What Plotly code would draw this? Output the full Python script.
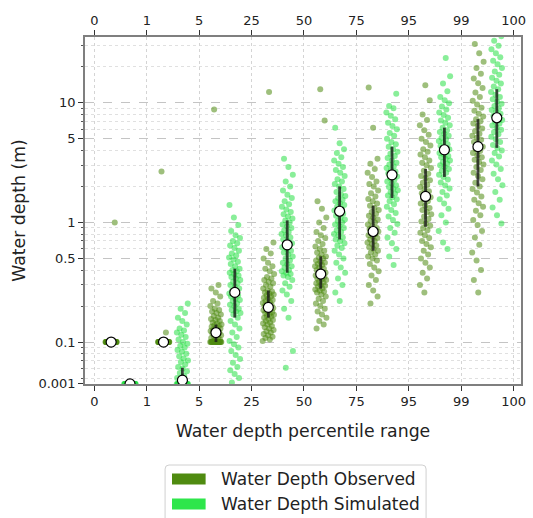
import math
import plotly.graph_objects as go

# ---------------- data ----------------
categories = ["0-1", "1-5", "5-25", "25-50", "50-75", "75-95", "95-99", "99-100"]
edge_labels = ["0", "1", "5", "25", "50", "75", "95", "99", "100"]

obs_0_1 = [0.1] * 44 + [1.0]
sim_0_1 = [0.001] * 44

obs_1_5 = [0.1] * 42 + [0.12, 2.66]
sim_1_5 = [0.001] * 28 + [0.048, 0.05, 0.052, 0.055, 0.057, 0.06, 0.062, 0.065, 0.068, 0.07,
                          0.073, 0.076, 0.08, 0.083, 0.086, 0.09, 0.093, 0.097, 0.1, 0.105,
                          0.11, 0.115, 0.12, 0.125, 0.13, 0.14, 0.15, 0.16, 0.175, 0.19, 0.21]

obs_5_25 = [0.1] * 20 + [0.102, 0.104, 0.106, 0.108, 0.11, 0.112, 0.114, 0.116, 0.118, 0.12,
                         0.122, 0.124, 0.126, 0.128, 0.13, 0.132, 0.134, 0.136, 0.138, 0.14,
                         0.143, 0.146, 0.15, 0.153, 0.156, 0.16, 0.165, 0.17, 0.175, 0.18,
                         0.185, 0.19, 0.2, 0.21, 0.22, 0.24, 0.26, 0.28, 0.3, 8.8]
sim_5_25 = [0.046, 0.05, 0.054, 0.058, 0.062, 0.067, 0.072, 0.078, 0.084, 0.09, 0.096, 0.102,
            0.11, 0.12, 0.13, 0.14, 0.15, 0.16, 0.17, 0.175, 0.18, 0.185, 0.19, 0.2, 0.205,
            0.21, 0.22, 0.225, 0.23, 0.24, 0.245, 0.25, 0.255, 0.26, 0.27, 0.28, 0.29, 0.3,
            0.31, 0.32, 0.33, 0.34, 0.35, 0.36, 0.37, 0.38, 0.39, 0.4, 0.41, 0.43, 0.45, 0.47,
            0.49, 0.51, 0.53, 0.55, 0.58, 0.61, 0.64, 0.67, 0.7, 0.74, 0.78, 0.85, 0.95, 1.1, 1.4]

obs_25_50 = [0.102, 0.105, 0.108, 0.111, 0.114, 0.117, 0.12, 0.123, 0.126, 0.13, 0.133, 0.136,
             0.14, 0.143, 0.146, 0.15, 0.153, 0.156, 0.16, 0.163, 0.166, 0.169, 0.172, 0.175,
             0.178, 0.181, 0.184, 0.187, 0.19, 0.193, 0.196, 0.2, 0.204, 0.208, 0.212, 0.216,
             0.22, 0.225, 0.23, 0.235, 0.24, 0.245, 0.25, 0.255, 0.26, 0.265, 0.27, 0.28, 0.29,
             0.3, 0.31, 0.32, 0.33, 0.34, 0.35, 0.37, 0.39, 0.41, 0.43, 0.46, 0.5, 0.55, 0.6,
             0.68, 12.3]
sim_25_50 = [0.061, 0.084, 0.16, 0.19, 0.22, 0.25, 0.27, 0.29, 0.31, 0.33, 0.35, 0.36, 0.37,
             0.38, 0.39, 0.4, 0.42, 0.43, 0.45, 0.46, 0.48, 0.5, 0.52, 0.54, 0.56, 0.58, 0.6,
             0.62, 0.64, 0.65, 0.67, 0.7, 0.72, 0.75, 0.78, 0.8, 0.83, 0.86, 0.9, 0.93, 0.96,
             1.0, 1.04, 1.08, 1.12, 1.17, 1.22, 1.28, 1.35, 1.42, 1.5, 1.6, 1.7, 1.85, 2.0, 2.2,
             2.5, 2.9, 3.4]

obs_50_75 = [0.13, 0.14, 0.15, 0.16, 0.17, 0.18, 0.19, 0.2, 0.21, 0.22, 0.23, 0.24, 0.25, 0.26,
             0.265, 0.27, 0.275, 0.28, 0.29, 0.295, 0.3, 0.31, 0.315, 0.32, 0.33, 0.335, 0.34,
             0.35, 0.355, 0.36, 0.37, 0.375, 0.38, 0.39, 0.4, 0.41, 0.42, 0.43, 0.44, 0.45, 0.46,
             0.47, 0.48, 0.5, 0.51, 0.52, 0.54, 0.56, 0.58, 0.6, 0.63, 0.66, 0.7, 0.74, 0.78,
             0.83, 0.9, 1.0, 1.1, 1.3, 1.5, 7.1, 13.0]
sim_50_75 = [0.22, 0.26, 0.3, 0.34, 0.38, 0.42, 0.46, 0.5, 0.54, 0.58, 0.61, 0.64, 0.67, 0.7,
             0.72, 0.75, 0.78, 0.8, 0.83, 0.86, 0.9, 0.93, 0.96, 1.0, 1.03, 1.06, 1.1, 1.14,
             1.18, 1.22, 1.26, 1.3, 1.35, 1.4, 1.45, 1.5, 1.55, 1.6, 1.66, 1.72, 1.8, 1.9, 2.0,
             2.1, 2.2, 2.3, 2.45, 2.6, 2.75, 2.9, 3.1, 3.3, 3.5, 3.8, 4.1, 4.6, 6.2]

obs_75_95 = [0.21, 0.24, 0.27, 0.3, 0.33, 0.36, 0.39, 0.42, 0.45, 0.48, 0.5, 0.52, 0.54, 0.56,
             0.58, 0.6, 0.62, 0.64, 0.66, 0.68, 0.7, 0.72, 0.74, 0.76, 0.78, 0.8, 0.82, 0.84,
             0.86, 0.88, 0.9, 0.93, 0.96, 1.0, 1.03, 1.06, 1.1, 1.14, 1.18, 1.22, 1.27, 1.32,
             1.38, 1.44, 1.5, 1.57, 1.65, 1.75, 1.85, 2.0, 2.1, 2.2, 2.4, 2.6, 2.8, 3.1, 3.4,
             6.2, 13.4]
sim_75_95 = [0.44, 0.52, 0.6, 0.67, 0.75, 0.82, 0.9, 0.97, 1.05, 1.12, 1.2, 1.27, 1.35, 1.42,
             1.5, 1.56, 1.62, 1.68, 1.74, 1.8, 1.86, 1.92, 1.98, 2.05, 2.12, 2.2, 2.27, 2.35,
             2.42, 2.5, 2.58, 2.66, 2.75, 2.85, 2.95, 3.05, 3.15, 3.3, 3.45, 3.6, 3.75, 3.9, 4.1,
             4.3, 4.5, 4.7, 5.0, 5.3, 5.6, 6.0, 6.4, 6.8, 7.3, 7.8, 8.3, 9.0, 9.4, 11.9]

obs_95_99 = [0.26, 0.3, 0.34, 0.38, 0.42, 0.46, 0.5, 0.54, 0.58, 0.62, 0.66, 0.7, 0.74, 0.78,
             0.82, 0.86, 0.9, 0.94, 0.98, 1.02, 1.07, 1.12, 1.17, 1.22, 1.27, 1.32, 1.38, 1.44,
             1.5, 1.56, 1.62, 1.68, 1.75, 1.82, 1.9, 1.98, 2.06, 2.15, 2.25, 2.35, 2.45, 2.55,
             2.7, 2.85, 3.0, 3.15, 3.3, 3.5, 3.7, 3.9, 4.1, 4.4, 4.7, 5.0, 5.4, 5.9, 6.5, 7.2,
             8.0, 10.5, 14.0]
sim_95_99 = [0.6, 0.68, 0.85, 1.0, 1.15, 1.3, 1.44, 1.56, 1.68, 1.8, 1.92, 2.04, 2.16, 2.28,
             2.4, 2.5, 2.6, 2.7, 2.8, 2.9, 3.0, 3.1, 3.2, 3.3, 3.4, 3.5, 3.6, 3.7, 3.8, 3.9, 4.0,
             4.1, 4.2, 4.35, 4.5, 4.65, 4.8, 4.95, 5.1, 5.3, 5.5, 5.7, 5.9, 6.2, 6.5, 6.8, 7.1,
             7.5, 7.9, 8.3, 8.8, 9.3, 9.9, 10.5, 11.2, 12.5, 14.5, 16.7, 23.7]

obs_99_100 = [0.26, 0.33, 0.4, 0.48, 0.56, 0.65, 0.75, 0.85, 0.95, 1.05, 1.15, 1.25, 1.35, 1.45,
              1.55, 1.65, 1.78, 1.9, 2.0, 2.15, 2.3, 2.45, 2.6, 2.75, 2.9, 3.05, 3.2, 3.35, 3.5,
              3.65, 3.8, 3.95, 4.1, 4.3, 4.5, 4.7, 4.9, 5.1, 5.3, 5.5, 5.8, 6.1, 6.4, 6.7, 7.0,
              7.3, 7.7, 8.1, 8.6, 9.1, 9.7, 10.4, 11.2, 12.2, 13.3, 14.6, 16.0, 17.5, 19.5, 22.0,
              26.0, 31.0]
sim_99_100 = [0.98, 1.15, 1.33, 1.55, 1.8, 2.05, 2.3, 2.55, 2.8, 3.05, 3.3, 3.55, 3.8, 4.0, 4.2,
              4.45, 4.7, 4.95, 5.2, 5.45, 5.7, 5.95, 6.2, 6.45, 6.7, 6.95, 7.2, 7.5, 7.8, 8.1,
              8.4, 8.7, 9.0, 9.4, 9.8, 10.2, 10.7, 11.2, 11.7, 12.3, 13.0, 13.7, 14.5, 15.3, 16.2,
              17.2, 18.3, 19.5, 21.0, 22.5, 24.0, 26.0, 28.0, 30.0, 33.0, 36.0]

obs_median = [0.1, 0.1, 0.12, 0.195, 0.37, 0.84, 1.65, 4.3]
obs_q1 = [0.1, 0.1, 0.1, 0.16, 0.28, 0.58, 0.92, 2.0]
obs_q3 = [0.1, 0.1, 0.14, 0.27, 0.52, 1.38, 2.8, 7.3]
sim_median = [0.001, 0.048, 0.26, 0.65, 1.24, 2.5, 4.05, 7.5]
sim_q1 = [0.001, 0.001, 0.16, 0.38, 0.72, 1.6, 2.4, 4.2]
sim_q3 = [0.001, 0.061, 0.41, 1.04, 2.0, 4.3, 6.2, 13.0]

y_tick_vals = [0.001, 0.1, 0.5, 1, 5, 10]
y_tick_text = ["0.001", "0.1", "0.5", "1", "5", "10"]
y_minor_vals = [0.05, 0.06, 0.07, 0.08, 0.09, 0.2, 0.3, 0.4, 0.6, 0.7, 0.8, 0.9,
                2, 3, 4, 6, 7, 8, 9, 20, 30]

obs_groups = [obs_0_1, obs_1_5, obs_5_25, obs_25_50, obs_50_75, obs_75_95, obs_95_99, obs_99_100]
sim_groups = [sim_0_1, sim_1_5, sim_5_25, sim_25_50, sim_50_75, sim_75_95, sim_95_99, sim_99_100]

# ---------------- styling ----------------
OBS_COLOR = "#4f8b10"
SIM_COLOR = "#2ee64b"
SIM_POINT = "#28e046"
FONT = "DejaVu Sans"
W, H = 533, 518
ML, MR, MT, MB = 85, 7, 37, 134
PW, PH = W - ML - MR, H - MT - MB
AXIS_FLOOR = 0.0447          # bottom of the axis, where 0.001 values sit
Y_TOP = 35.5
X_RANGE = [-0.179, -0.179 + PW / 53.0]
Y_RANGE = [math.log10(AXIS_FLOOR) - 0.001, math.log10(Y_TOP)]
OBS_OFF, SIM_OFF, JIT = 0.32, 0.68, 0.11


def disp(v):
    return max(v, AXIS_FLOOR)


def jitter(n, shift):
    return [(((i + 1) * 0.6180339887 + shift) % 1.0 - 0.5) * 2 * JIT for i in range(n)]


fig = go.Figure()

for series, off, color, shift in ((obs_groups, OBS_OFF, OBS_COLOR, 0.0),
                                  (sim_groups, SIM_OFF, SIM_POINT, 0.37)):
    xs, ys = [], []
    for k, vals in enumerate(series):
        jj = jitter(len(vals), shift + 0.13 * k)
        xs += [k + off + j for j in jj]
        ys += [disp(v) for v in vals]
    fig.add_trace(go.Scatter(x=xs, y=ys, mode="markers", showlegend=False, hoverinfo="skip",
                             marker=dict(size=6, color=color, opacity=0.55,
                                         line=dict(width=0))))

# IQR lines and medians (on overlay axis so they sit on top)
for med, q1, q3, off in ((obs_median, obs_q1, obs_q3, OBS_OFF),
                         (sim_median, sim_q1, sim_q3, SIM_OFF)):
    lx, ly = [], []
    for k in range(len(categories)):
        lx += [k + off, k + off, None]
        ly += [disp(q1[k]), disp(q3[k]), None]
    fig.add_trace(go.Scatter(x=lx, y=ly, mode="lines", xaxis="x2", showlegend=False,
                             hoverinfo="skip", line=dict(color="rgba(25,25,25,0.8)", width=2.8)))
    fig.add_trace(go.Scatter(x=[k + off for k in range(len(categories))],
                             y=[disp(m) for m in med], mode="markers", xaxis="x2",
                             showlegend=False, hoverinfo="skip",
                             marker=dict(size=10, color="white",
                                         line=dict(color="black", width=1.2))))

axis_line = dict(showline=True, linecolor="#7f7f7f", linewidth=1.5)
tickfont = dict(family=FONT, size=13, color="#222")

fig.update_layout(
    width=W, height=H,
    margin=dict(l=ML, r=MR, t=MT, b=MB),
    paper_bgcolor="white", plot_bgcolor="white",
    font=dict(family=FONT, color="#222"),
    showlegend=False,
    xaxis=dict(range=X_RANGE, tickmode="array", tickvals=list(range(len(edge_labels))),
               ticktext=edge_labels, ticks="outside", ticklen=5, tickcolor="#333",
               tickfont=tickfont, showgrid=True, gridcolor="#d4d4d4", griddash="dot",
               gridwidth=1, zeroline=False,
               title=dict(text="Water depth percentile range",
                          font=dict(family=FONT, size=17.3, color="#222"), standoff=17),
               **axis_line),
    xaxis2=dict(range=X_RANGE, overlaying="x", side="top", tickmode="array",
                tickvals=list(range(len(edge_labels))), ticktext=edge_labels,
                ticks="outside", ticklen=5, tickcolor="#333", tickfont=tickfont,
                showgrid=False, zeroline=False, **axis_line),
    yaxis=dict(type="log", range=Y_RANGE, tickmode="array",
               tickvals=[disp(v) for v in y_tick_vals], ticktext=y_tick_text,
               ticks="outside", ticklen=5, tickcolor="#333", tickfont=tickfont,
               showgrid=True, gridcolor="#c4c4c4", griddash="dash", gridwidth=1,
               minor=dict(tickmode="array", tickvals=y_minor_vals, ticks="outside",
                          ticklen=2.5, tickcolor="#555", showgrid=True,
                          gridcolor="#e0e0e0", griddash="dot", gridwidth=1),
               zeroline=False, mirror=True,
               title=dict(text="Water depth (m)",
                          font=dict(family=FONT, size=17.3, color="#222"), standoff=8),
               **axis_line),
)


# ---------------- legend drawn below the plot ----------------
def px(x):
    return (x - ML) / PW


def py(y):
    return (MT + PH - y) / PH


bx0, bx1, by0, by1, r = 166, 430, 465, 540, 4
path = (f"M{px(bx0 + r)},{py(by0)} L{px(bx1 - r)},{py(by0)} "
        f"Q{px(bx1)},{py(by0)} {px(bx1)},{py(by0 + r)} L{px(bx1)},{py(by1)} "
        f"L{px(bx0)},{py(by1)} L{px(bx0)},{py(by0 + r)} "
        f"Q{px(bx0)},{py(by0)} {px(bx0 + r)},{py(by0)} Z")
fig.add_shape(type="path", path=path, xref="paper", yref="paper",
              line=dict(color="#d0d0d0", width=1), fillcolor="white", layer="above")

legend_items = [("Water Depth Observed", OBS_COLOR, 479),
                ("Water Depth Simulated", SIM_COLOR, 504)]
for label, color, yc in legend_items:
    fig.add_shape(type="rect", xref="paper", yref="paper",
                  x0=px(173), x1=px(207), y0=py(yc - 5.5), y1=py(yc + 5.5),
                  line=dict(width=0), fillcolor=color, layer="above")
    fig.add_annotation(x=px(221), y=py(yc), xref="paper", yref="paper", text=label,
                       showarrow=False, xanchor="left", yanchor="middle",
                       font=dict(family=FONT, size=17, color="#222"))

fig.write_html("out.html")
